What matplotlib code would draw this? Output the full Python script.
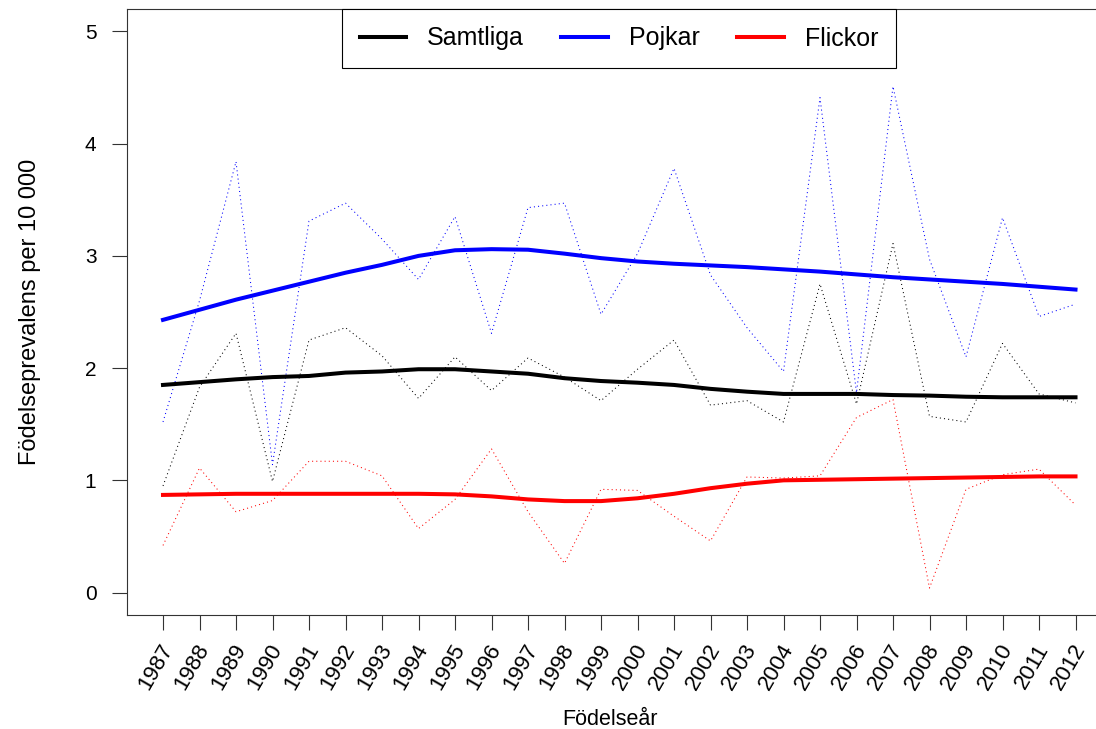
import numpy as np
import matplotlib.pyplot as plt
import matplotlib.transforms as mtransforms

plt.rcParams['font.family'] = ['Liberation Sans', 'DejaVu Sans']

years = list(range(1987, 2013))

# yearly values (dotted)
samtliga_raw = [0.95, 1.83, 2.31, 0.99, 2.25, 2.36, 2.11, 1.73, 2.10, 1.80, 2.09, 1.92, 1.71,
                1.99, 2.25, 1.67, 1.71, 1.52, 2.75, 1.68, 3.11, 1.57, 1.52, 2.22, 1.77, 1.69]
pojkar_raw = [1.52, 2.60, 3.84, 1.14, 3.31, 3.47, 3.15, 2.79, 3.35, 2.31, 3.43, 3.47, 2.48,
              3.02, 3.78, 2.83, 2.36, 1.97, 4.41, 1.78, 4.51, 2.97, 2.10, 3.34, 2.46, 2.57]
flickor_raw = [0.42, 1.11, 0.72, 0.82, 1.17, 1.17, 1.04, 0.57, 0.83, 1.28, 0.72, 0.26, 0.92,
               0.91, 0.68, 0.46, 1.03, 1.02, 1.04, 1.56, 1.72, 0.04, 0.92, 1.05, 1.10, 0.78]

# smoothed trends (thick)
samtliga_smooth = [1.85, 1.875, 1.90, 1.92, 1.93, 1.96, 1.97, 1.99, 1.99, 1.97, 1.95, 1.91, 1.885,
                   1.87, 1.85, 1.815, 1.79, 1.77, 1.77, 1.77, 1.76, 1.755, 1.745, 1.74, 1.74, 1.74]
pojkar_smooth = [2.43, 2.52, 2.61, 2.69, 2.77, 2.85, 2.92, 3.00, 3.05, 3.06, 3.055, 3.02, 2.98,
                 2.95, 2.93, 2.915, 2.90, 2.88, 2.86, 2.835, 2.81, 2.79, 2.77, 2.75, 2.725, 2.70]
flickor_smooth = [0.87, 0.875, 0.88, 0.88, 0.88, 0.88, 0.88, 0.88, 0.875, 0.857, 0.83, 0.815, 0.815,
                  0.84, 0.88, 0.93, 0.97, 1.00, 1.005, 1.01, 1.015, 1.02, 1.025, 1.03, 1.035, 1.035]

W, H = 1096, 729
fig = plt.figure(figsize=(W/100, H/100), dpi=100)
ax = fig.add_axes([126.5/W, 1-615/H, (1112-126.5)/W, (615-9)/H])

dot = (0, (1, 3))
ax.plot(years, samtliga_raw, color='black', lw=0.75, ls=dot)
ax.plot(years, pojkar_raw, color='blue', lw=0.75, ls=dot)
ax.plot(years, flickor_raw, color='red', lw=0.75, ls=dot)

ax.plot(years, samtliga_smooth, color='black', lw=2.9, label='Samtliga')
ax.plot(years, pojkar_smooth, color='blue', lw=2.9, label='Pojkar')
ax.plot(years, flickor_smooth, color='red', lw=2.9, label='Flickor')

ax.set_xlim(1986, 2013)
ax.set_ylim(-0.2, 5.2)
ax.set_yticks(range(6))
ax.set_xticks(years)
ax.set_xticklabels([str(y) for y in years], rotation=60, ha='right', va='center',
                   rotation_mode='anchor', fontsize=16)
ax.tick_params(length=10.8, width=0.8, direction='out', color='#333333')
ax.tick_params(axis='y', pad=10.8, labelsize=15)
ax.tick_params(axis='x', pad=11)
off = mtransforms.ScaledTranslation(5/100, 0, fig.dpi_scale_trans)
for lab in ax.get_xticklabels():
    lab.set_transform(lab.get_transform() + off)

for sp in ax.spines.values():
    sp.set_linewidth(0.8)
    sp.set_color('#333333')

ax.set_xlabel('Födelseår', fontsize=15.5)
ax.xaxis.set_label_coords((610-126.5)/985.5, (615-709)/606)
ax.set_ylabel('Födelseprevalens per 10 000', fontsize=17)
ax.yaxis.set_label_coords((41-126.5)/985.5, 0.5)

leg = ax.legend(loc='upper left', bbox_to_anchor=((342-126.5)/985.5, 1.0), ncol=3,
                fontsize=18, frameon=True, fancybox=False, edgecolor='black',
                framealpha=1, borderaxespad=0, handlelength=1.85, handletextpad=0.85,
                columnspacing=1.5, borderpad=0.7)
leg.get_frame().set_linewidth(0.8)

fig.savefig('out.png', dpi=100)
